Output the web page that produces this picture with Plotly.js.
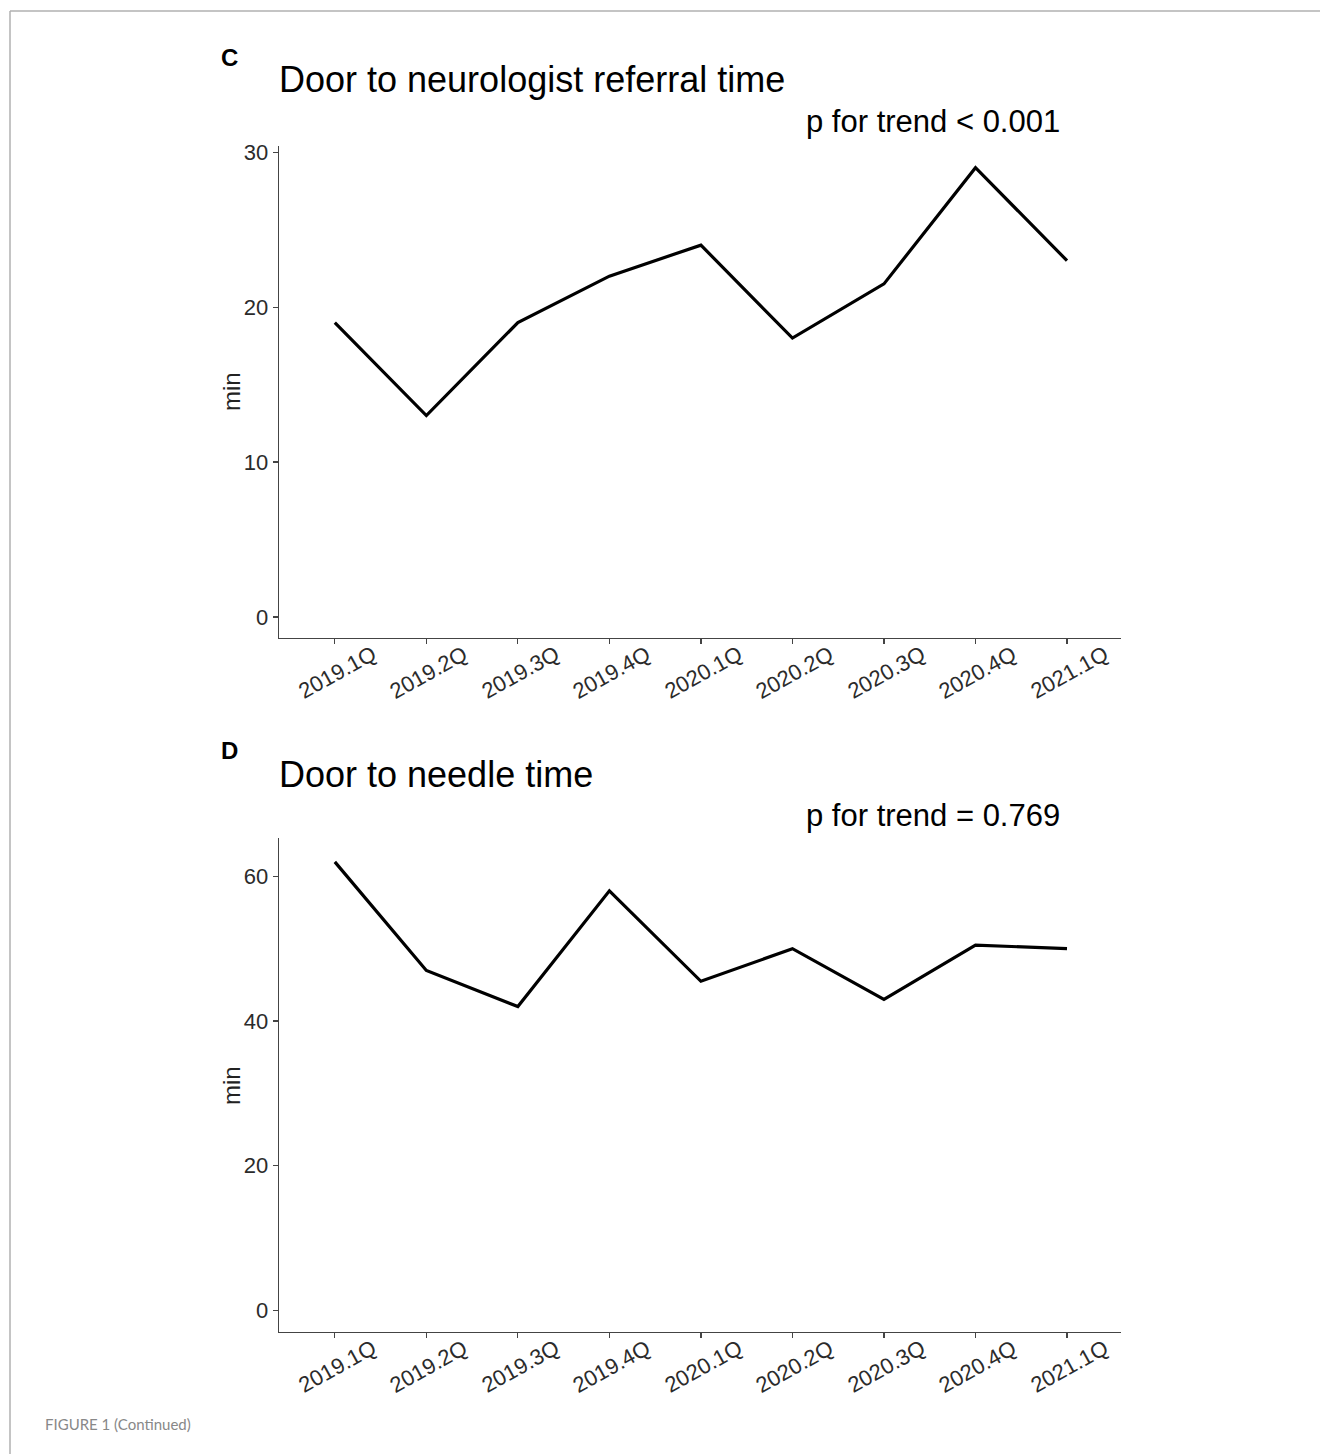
<!DOCTYPE html>
<html>
<head>
<meta charset="utf-8">
<script src="https://cdn.plot.ly/plotly-3.0.1.min.js"></script>
<style>
  html, body { margin: 0; padding: 0; background: #fff; }
  #chart { width: 1320px; height: 1454px; }
</style>
</head>
<body>
<div id="chart"></div>
<script>
// ---- data ----
const quarters = ["2019.1Q","2019.2Q","2019.3Q","2019.4Q","2020.1Q","2020.2Q","2020.3Q","2020.4Q","2021.1Q"];
const referralTime = [19, 13, 19, 22, 24, 18, 21.5, 29, 23];
const needleTime = [62, 47, 42, 58, 45.5, 50, 43, 50.5, 50];
const yTicksC = [0, 10, 20, 30];
const yTicksD = [0, 20, 40, 60];
const titleC = "Door to neurologist referral time";
const titleD = "Door to needle time";
const pTextC = "p for trend < 0.001";
const pTextD = "p for trend = 0.769";
const yTitle = "min";
const caption = "FIGURE 1 (Continued)";

const W = 1320, H = 1454;
const px = x => x / W;
const py = y => 1 - y / H;

const font = "Liberation Sans";
const axisCommon = {
  showgrid: false, zeroline: false, showline: true,
  linecolor: "#444", linewidth: 1.4,
  ticks: "outside", ticklen: 5, tickwidth: 1.2, tickcolor: "#444",
  tickfont: { family: font, size: 22, color: "#2b2b2b" }
};

const traces = [
  { x: quarters, y: referralTime, xaxis: "x", yaxis: "y", type: "scatter", mode: "lines",
    line: { color: "#000", width: 3.2 }, hoverinfo: "skip" },
  { x: quarters, y: needleTime, xaxis: "x2", yaxis: "y2", type: "scatter", mode: "lines",
    line: { color: "#000", width: 3.2 }, hoverinfo: "skip" }
];

const xCat = Object.assign({}, axisCommon, {
  type: "category", categoryorder: "array", categoryarray: quarters,
  range: [-0.61, 8.59], showticklabels: false
});

function ann(text, x, y, size, opts) {
  return Object.assign({ text: text, x: px(x), y: py(y), xref: "paper", yref: "paper",
    xanchor: "left", yanchor: "middle", showarrow: false,
    font: { family: font, size: size, color: "#000" } }, opts || {});
}

const annotations = [
  ann("<b>C</b>", 219, 58, 24),
  ann(titleC, 277, 80, 36),
  ann(pTextC, 1062, 121, 31, { xanchor: "right" }),
  ann("<b>D</b>", 219, 751, 24),
  ann(titleD, 277, 774, 36),
  ann(pTextD, 1062, 815, 31, { xanchor: "right" }),
  ann(yTitle, 231, 391, 24, { xanchor: "center", textangle: -90, font: { family: font, size: 24, color: "#222" } }),
  ann(yTitle, 231, 1085, 24, { xanchor: "center", textangle: -90, font: { family: font, size: 24, color: "#222" } }),
  ann(caption, 43, 1424, 15, { font: { family: "Lato", size: 15, color: "#888" } })
];

// rotated category labels centred under their ticks (ggplot style)
[["x", 672], ["x2", 1366]].forEach(([xr, yc]) => {
  quarters.forEach(q => {
    annotations.push({ text: q, x: q, xref: xr, y: py(yc), yref: "paper",
      xanchor: "center", yanchor: "middle", xshift: 2, textangle: -29, showarrow: false,
      font: { family: font, size: 22, color: "#2b2b2b" } });
  });
});

const layout = {
  width: W, height: H,
  margin: { l: 0, r: 0, t: 0, b: 0 },
  paper_bgcolor: "#fff", plot_bgcolor: "#fff",
  showlegend: false,
  xaxis: Object.assign({}, xCat, { domain: [px(279), px(1121)], anchor: "y" }),
  yaxis: Object.assign({}, axisCommon, {
    domain: [py(638), py(146)], anchor: "x", range: [-1.36, 30.4],
    tickvals: yTicksC, ticktext: yTicksC.map(String)
  }),
  xaxis2: Object.assign({}, xCat, { domain: [px(279), px(1121)], anchor: "y2" }),
  yaxis2: Object.assign({}, axisCommon, {
    domain: [py(1332), py(838)], anchor: "x2", range: [-2.97, 65.3],
    tickvals: yTicksD, ticktext: yTicksD.map(String)
  }),
  annotations: annotations,
  shapes: [
    { type: "line", xref: "paper", yref: "paper", x0: px(10), x1: 1, y0: py(11), y1: py(11),
      line: { color: "#b0b0b0", width: 1.5 } },
    { type: "line", xref: "paper", yref: "paper", x0: px(10), x1: px(10), y0: py(11), y1: 0,
      line: { color: "#b0b0b0", width: 1.5 } }
  ]
};

Plotly.newPlot("chart", traces, layout, { staticPlot: true, displayModeBar: false });
</script>
</body>
</html>
